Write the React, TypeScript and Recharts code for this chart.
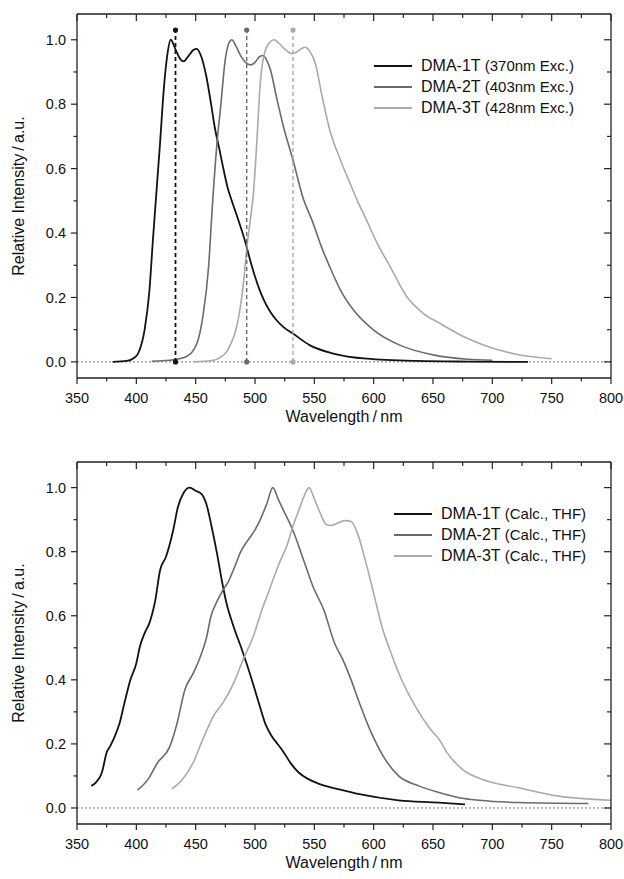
import { LineChart, Line, XAxis, YAxis, ReferenceLine, Legend, Label } from "recharts";

const FONT = '"Liberation Sans", Arial, Helvetica, sans-serif';
const AXIS = "#222";
const TEXT = "#111";

// ---- top panel: measured emission (wavelength nm / relative intensity)
const dma1ExcWl = [380, 392, 398, 402, 407, 411, 414, 417, 420, 423, 426, 429, 433, 437, 440, 444, 448, 451, 454, 459, 463, 466, 470, 473, 477, 480, 486, 492, 496, 500, 504, 508, 513, 518, 524, 532, 546, 566, 594, 637, 680, 730];
const dma1ExcI = [0, 0.003, 0.012, 0.03, 0.1, 0.22, 0.38, 0.53, 0.68, 0.84, 0.95, 1.0, 0.97, 0.94, 0.933, 0.95, 0.968, 0.972, 0.955, 0.886, 0.8, 0.73, 0.66, 0.606, 0.54, 0.505, 0.44, 0.37, 0.315, 0.265, 0.222, 0.188, 0.155, 0.13, 0.108, 0.088, 0.052, 0.026, 0.01, 0.003, 0.001, 0];

const dma2ExcWl = [413, 428, 442, 451, 456, 461, 464, 468, 471, 475, 478, 480.5, 484, 488, 492, 496.5, 500, 504, 507, 510, 513, 518, 524, 532, 541, 548, 556, 563, 572, 583, 600, 622, 651, 679, 700];
const dma2ExcI = [0.002, 0.005, 0.016, 0.057, 0.14, 0.3, 0.48, 0.68, 0.79, 0.94, 0.99, 1.0, 0.98, 0.95, 0.93, 0.922, 0.93, 0.948, 0.951, 0.935, 0.907, 0.824, 0.73, 0.627, 0.503, 0.44, 0.357, 0.295, 0.223, 0.161, 0.099, 0.052, 0.021, 0.008, 0.005];

const dma3ExcWl = [448, 465, 471, 476, 480, 483, 486, 489, 491, 493, 496, 498.6, 501.5, 504.3, 508.5, 512, 516, 520, 524, 528, 531, 535, 539, 542.3, 546, 551, 556, 563, 572, 580, 586, 594, 603, 614, 628, 642, 656, 676, 693, 720, 750];
const dma3ExcI = [0, 0.005, 0.015, 0.031, 0.06, 0.088, 0.135, 0.205, 0.27, 0.35, 0.44, 0.52, 0.68, 0.86, 0.965, 0.99, 1.0, 0.99, 0.975, 0.962, 0.957, 0.962, 0.972, 0.977, 0.965, 0.925, 0.834, 0.72, 0.627, 0.555, 0.503, 0.44, 0.368, 0.295, 0.202, 0.15, 0.119, 0.078, 0.052, 0.024, 0.01];

// dashed markers at the excitation-spectrum maxima
const markerWl = [433, 493, 532];
const markerTop = 1.03;

// ---- bottom panel: calculated spectra (THF)
const dma1CalcWl = [362, 366, 371, 375, 378, 382, 386, 390, 395, 400, 403, 407, 411, 416, 420, 425, 431, 435, 440, 445, 450, 455, 459, 463.5, 468, 472, 476, 482, 489, 493, 499, 504, 509, 514, 519, 524, 530, 537, 545, 554, 571, 588, 621, 655, 677];
const dma1CalcI = [0.069, 0.08, 0.111, 0.173, 0.193, 0.225, 0.266, 0.328, 0.4, 0.452, 0.504, 0.546, 0.577, 0.649, 0.742, 0.784, 0.866, 0.939, 0.985, 1.0, 0.99, 0.98, 0.949, 0.877, 0.794, 0.711, 0.639, 0.566, 0.494, 0.45, 0.38, 0.318, 0.26, 0.225, 0.2, 0.175, 0.14, 0.11, 0.09, 0.075, 0.058, 0.043, 0.024, 0.017, 0.011];

const dma2CalcWl = [401, 410, 418, 428, 434, 441, 448, 454, 459, 463, 468, 473, 478, 483, 488, 496, 500, 505, 510, 515, 520, 524, 532, 541, 549, 558, 567, 574, 581, 588, 598, 608, 621, 638, 655, 672, 689, 722, 781];
const dma2CalcI = [0.056, 0.09, 0.142, 0.19, 0.26, 0.37, 0.421, 0.473, 0.53, 0.6, 0.645, 0.68, 0.71, 0.754, 0.8, 0.846, 0.868, 0.905, 0.95, 1.0, 0.96, 0.929, 0.866, 0.773, 0.69, 0.618, 0.515, 0.463, 0.4, 0.328, 0.235, 0.162, 0.1, 0.069, 0.048, 0.032, 0.024, 0.017, 0.014];

const dma3CalcWl = [430, 439, 448, 456, 465, 473, 482, 490, 499, 506, 513, 520, 527, 532, 537, 541, 545.5, 550, 555, 560, 564, 570, 576, 581, 586, 593, 600, 607, 614, 621, 635, 648, 655, 662, 675, 692, 722, 756, 800];
const dma3CalcI = [0.06, 0.09, 0.142, 0.214, 0.287, 0.328, 0.39, 0.463, 0.54, 0.62, 0.69, 0.76, 0.82, 0.88, 0.93, 0.97, 1.0, 0.965, 0.92, 0.885, 0.882, 0.89, 0.897, 0.894, 0.861, 0.773, 0.67, 0.566, 0.49, 0.422, 0.318, 0.245, 0.215, 0.172, 0.12, 0.089, 0.063, 0.037, 0.024];

const xTicks = [350, 375, 400, 425, 450, 475, 500, 525, 550, 575, 600, 625, 650, 675, 700, 725, 750, 775, 800];
const yTicks = [0, 0.1, 0.2, 0.3, 0.4, 0.5, 0.6, 0.7, 0.8, 0.9, 1.0];

const COLORS = ["#121212", "#6b6b6b", "#aaaaaa"];

const toPoints = (wl: number[], v: number[]) => wl.map((x, i) => ({ x, y: v[i] }));

const excSeries = [
  { name: "DMA-1T", note: "(370nm Exc.)", color: COLORS[0], data: toPoints(dma1ExcWl, dma1ExcI) },
  { name: "DMA-2T", note: "(403nm Exc.)", color: COLORS[1], data: toPoints(dma2ExcWl, dma2ExcI) },
  { name: "DMA-3T", note: "(428nm Exc.)", color: COLORS[2], data: toPoints(dma3ExcWl, dma3ExcI) },
];

const calcSeries = [
  { name: "DMA-1T", note: "(Calc., THF)", color: COLORS[0], data: toPoints(dma1CalcWl, dma1CalcI) },
  { name: "DMA-2T", note: "(Calc., THF)", color: COLORS[1], data: toPoints(dma2CalcWl, dma2CalcI) },
  { name: "DMA-3T", note: "(Calc., THF)", color: COLORS[2], data: toPoints(dma3CalcWl, dma3CalcI) },
];

const isMajorX = (v: number) => v % 50 === 0;
const isMajorY = (v: number) => Math.round(v * 10) % 2 === 0;

// custom ticks: draw the tick marks ourselves so majors and minors differ
function BottomTick({ x, y, payload }: any) {
  const major = isMajorX(payload.value);
  return (
    <g>
      <line x1={x} y1={y} x2={x} y2={y + (major ? 6 : 3.5)} stroke={AXIS} strokeWidth={1.2} />
      {major && (
        <text x={x} y={y + 25} textAnchor="middle" fontSize={14.5} fill={TEXT} fontFamily={FONT}>
          {payload.value}
        </text>
      )}
    </g>
  );
}

function TopTick({ x, y, payload }: any) {
  const major = isMajorX(payload.value);
  return <line x1={x} y1={y} x2={x} y2={y + (major ? 7 : 4)} stroke={AXIS} strokeWidth={1.2} />;
}

function LeftTick({ x, y, payload }: any) {
  const major = isMajorY(payload.value);
  return (
    <g>
      <line x1={x} y1={y} x2={x - (major ? 6 : 3.5)} y2={y} stroke={AXIS} strokeWidth={1.2} />
      {major && (
        <text x={x - 11} y={y} dy="0.36em" textAnchor="end" fontSize={14.5} fill={TEXT} fontFamily={FONT}>
          {payload.value.toFixed(1)}
        </text>
      )}
    </g>
  );
}

function RightTick({ x, y, payload }: any) {
  const major = isMajorY(payload.value);
  return <line x1={x} y1={y} x2={x - (major ? 7 : 4)} y2={y} stroke={AXIS} strokeWidth={1.2} />;
}

function XTitle({ viewBox }: any) {
  return (
    <text x={viewBox.x + viewBox.width / 2} y={viewBox.y + 44} textAnchor="middle" fontSize={16} fill={TEXT} fontFamily={FONT}>
      Wavelength{"\u2009/\u2009"}nm
    </text>
  );
}

function YTitle({ viewBox }: any) {
  const cx = viewBox.x + 1;
  const cy = viewBox.y + viewBox.height / 2;
  return (
    <text x={cx} y={cy} dy="0.36em" textAnchor="middle" fontSize={16} fill={TEXT} fontFamily={FONT} transform={`rotate(-90, ${cx}, ${cy})`}>
      Relative Intensity{"\u2009/\u2009"}a.u.
    </text>
  );
}

type Series = { name: string; note: string; color: string; data: { x: number; y: number }[] };

function LegendBox({ series }: { series: Series[] }) {
  return (
    <div style={{ fontFamily: FONT, color: TEXT }}>
      {series.map((s) => (
        <div key={s.name} style={{ display: "flex", alignItems: "center", height: 21 }}>
          <svg width={38} height={4} style={{ display: "block" }}>
            <line x1={0} y1={2} x2={38} y2={2} stroke={s.color} strokeWidth={2} />
          </svg>
          <span style={{ marginLeft: 9, fontSize: 16, whiteSpace: "nowrap", lineHeight: "21px" }}>
            {s.name} <span style={{ fontSize: 15 }}>{s.note}</span>
          </span>
        </div>
      ))}
    </div>
  );
}

interface PanelProps {
  series: Series[];
  height: number;
  margin: { top: number; right: number; bottom: number; left: number };
  legendPos: { left: number; top: number };
  markers?: boolean;
}

function Panel({ series, height, margin, legendPos, markers }: PanelProps) {
  return (
    <LineChart width={624} height={height} margin={margin}>
      <XAxis
        dataKey="x"
        type="number"
        domain={[350, 800]}
        ticks={xTicks}
        allowDataOverflow
        height={40}
        tickSize={0}
        tickMargin={0}
        tickLine={false}
        tick={<BottomTick />}
        axisLine={{ stroke: AXIS, strokeWidth: 1.3 }}
      >
        <Label content={<XTitle />} />
      </XAxis>
      {/* mirrored top/right axes close the frame; size 1 so they still render */}
      <XAxis
        xAxisId="top"
        orientation="top"
        dataKey="x"
        type="number"
        domain={[350, 800]}
        ticks={xTicks}
        allowDataOverflow
        mirror
        height={1}
        tickSize={0}
        tickMargin={0}
        tickLine={false}
        tick={<TopTick />}
        axisLine={{ stroke: AXIS, strokeWidth: 1.3 }}
      />
      <YAxis
        type="number"
        domain={[-0.05, 1.08]}
        ticks={yTicks}
        allowDataOverflow
        width={60}
        tickSize={0}
        tickMargin={0}
        tickLine={false}
        tick={<LeftTick />}
        axisLine={{ stroke: AXIS, strokeWidth: 1.3 }}
      >
        <Label content={<YTitle />} />
      </YAxis>
      <YAxis
        yAxisId="right"
        orientation="right"
        type="number"
        domain={[-0.05, 1.08]}
        ticks={yTicks}
        allowDataOverflow
        mirror
        width={1}
        tickSize={0}
        tickMargin={0}
        tickLine={false}
        tick={<RightTick />}
        axisLine={{ stroke: AXIS, strokeWidth: 1.3 }}
      />
      <ReferenceLine y={0} stroke="#777" strokeWidth={1} strokeDasharray="2 2" />
      {series.map((s) => (
        <Line
          key={s.name}
          data={s.data}
          dataKey="y"
          name={s.name}
          type="monotone"
          stroke={s.color}
          strokeWidth={s.color === COLORS[0] ? 1.8 : 1.6}
          dot={false}
          isAnimationActive={false}
        />
      ))}
      {markers &&
        markerWl.map((wl, i) => (
          <Line
            key={`marker-${wl}`}
            data={[
              { x: wl, y: 0 },
              { x: wl, y: markerTop },
            ]}
            dataKey="y"
            type="linear"
            stroke={series[i].color}
            strokeWidth={series[i].color === COLORS[0] ? 1.8 : 1.4}
            strokeDasharray="4 3"
            dot={{ r: 2.6, fill: series[i].color, stroke: series[i].color, strokeWidth: 0 }}
            legendType="none"
            isAnimationActive={false}
          />
        ))}
      <Legend
        layout="vertical"
        align="center"
        verticalAlign="middle"
        content={() => <LegendBox series={series} />}
        wrapperStyle={{ left: legendPos.left, top: legendPos.top, width: "auto", height: "auto" }}
      />
    </LineChart>
  );
}

export default function App() {
  return (
    <div style={{ position: "absolute", left: 0, top: 0, width: 624, height: 879, background: "#fff" }}>
      <Panel
        series={excSeries}
        height={440}
        margin={{ top: 14, right: 13, bottom: 22, left: 17 }}
        legendPos={{ left: 374, top: 55 }}
        markers
      />
      <Panel
        series={calcSeries}
        height={439}
        margin={{ top: 22, right: 13, bottom: 15, left: 17 }}
        legendPos={{ left: 394, top: 63 }}
      />
    </div>
  );
}
